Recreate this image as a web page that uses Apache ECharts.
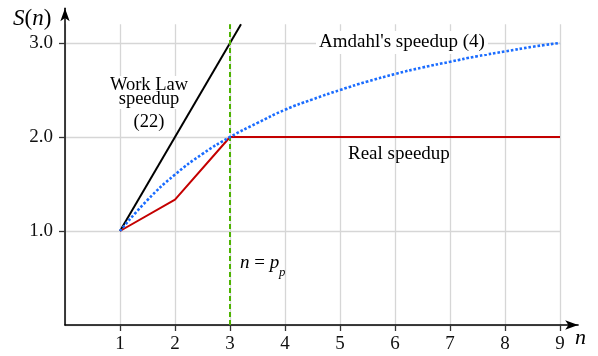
<!DOCTYPE html>
<html><head><meta charset="utf-8">
<script src="https://cdn.jsdelivr.net/npm/echarts@6/dist/echarts.min.js"></script>
<style>html,body{margin:0;padding:0;background:#fff}#c{width:598px;height:356px}</style>
</head><body><div id="c"></div>
<script>
// ---- data ----
const xTicks = [1, 2, 3, 4, 5, 6, 7, 8, 9];
const yTicks = [1, 2, 3];
const workLawN = [1, 3.2];
const workLawS = [1, 3.2];
const amdahlN = [1, 1.5, 2, 2.5, 3, 3.5, 4, 4.5, 5, 5.5, 6, 6.5, 7, 7.5, 8, 8.5, 9];
const amdahlS = [1.0, 1.33, 1.6, 1.82, 2.0, 2.15, 2.29, 2.4, 2.5, 2.59, 2.67, 2.74, 2.8, 2.86, 2.91, 2.96, 3.0];
const realN = [1, 2, 3, 9];
const realS = [1.0, 1.333, 2.0, 2.0];
const pp = 3;

const FF = '"Liberation Serif", "Times New Roman", serif';
const zip = (a, b) => a.map((v, i) => [v, b[i]]);

// ---- layout ----
const X0 = 65, Y0 = 325, UX = 55, UY = 94;
const xMaxA = 9, yMaxA = 3.2, xMaxB = 9.33, yMaxB = 3.37;

const chart = echarts.init(document.getElementById('c'), null, {renderer: 'canvas'});
chart.setOption({
  animation: false,
  backgroundColor: '#fff',
  grid: [
    {left: X0, top: Y0 - yMaxA * UY, width: xMaxA * UX, height: yMaxA * UY},
    {left: X0, top: Y0 - yMaxB * UY, width: xMaxB * UX, height: yMaxB * UY}
  ],
  xAxis: [
    {gridIndex: 0, type: 'value', min: 0, max: xMaxA, interval: 1,
     axisLine: {show: false}, axisTick: {show: false}, axisLabel: {show: false},
     splitLine: {show: true, lineStyle: {color: '#d6d6d6', width: 1.3}}},
    {gridIndex: 1, type: 'value', min: 0, max: xMaxB, interval: 1,
     axisLine: {show: true, onZero: false, symbol: ['none', 'arrow'], symbolSize: [7, 13],
                lineStyle: {color: '#000', width: 1.5}},
     axisTick: {show: true, customValues: xTicks, length: 6, lineStyle: {color: '#333', width: 1.3}},
     axisLabel: {show: true, customValues: xTicks, margin: 10, fontSize: 19, fontFamily: FF, color: '#111'},
     splitLine: {show: false}}
  ],
  yAxis: [
    {gridIndex: 0, type: 'value', min: 0, max: yMaxA, interval: 1,
     axisLine: {show: false}, axisTick: {show: false}, axisLabel: {show: false},
     splitLine: {show: true, showMaxLine: false, lineStyle: {color: '#d6d6d6', width: 1.3}}},
    {gridIndex: 1, type: 'value', min: 0, max: yMaxB, interval: 1,
     axisLine: {show: true, onZero: false, symbol: ['none', 'arrow'], symbolSize: [7, 13],
                lineStyle: {color: '#000', width: 1.5}},
     axisTick: {show: true, customValues: yTicks, length: 6, lineStyle: {color: '#333', width: 1.3}},
     axisLabel: {show: true, customValues: yTicks, margin: 12, fontSize: 19, fontFamily: FF, color: '#111',
                 formatter: v => Number(v).toFixed(1)},
     splitLine: {show: false}}
  ],
  series: [
    {name: 'Work Law', type: 'line', xAxisIndex: 0, yAxisIndex: 0, data: zip(workLawN, workLawS),
     symbol: 'none', clip: false, lineStyle: {color: '#000', width: 2}, z: 3},
    {name: 'Real', type: 'line', xAxisIndex: 0, yAxisIndex: 0, data: zip(realN, realS),
     symbol: 'none', lineStyle: {color: '#c40000', width: 2}, z: 4,
     markLine: {silent: true, symbol: 'none', label: {show: false},
                lineStyle: {color: '#4db300', width: 2, type: [5, 3]},
                data: [{xAxis: pp}]}},
    {name: 'Amdahl', type: 'line', xAxisIndex: 0, yAxisIndex: 0, data: zip(amdahlN, amdahlS),
     symbol: 'none', smooth: true, lineStyle: {color: '#1a6cff', width: 2.6, type: [2.6, 1.9]}, z: 5}
  ],
  graphic: [
    {type: 'text', x: 13, y: 19, silent: true, style: {
      text: '{i|S}{r|(}{i|n}{r|)}', fill: '#000', align: 'left', verticalAlign: 'middle',
      rich: {i: {fontStyle: 'italic', fontSize: 23, fontFamily: FF}, r: {fontSize: 23, fontFamily: FF}}}},
    {type: 'text', x: 575, y: 338, silent: true, style: {
      text: 'n', fill: '#000', align: 'left', verticalAlign: 'middle',
      fontStyle: 'italic', fontSize: 22, fontFamily: FF}},
    {type: 'text', x: 149, y: 85.5, silent: true, z: 10, style: {
      text: 'Work Law', fill: '#000', align: 'center', verticalAlign: 'middle', fontSize: 18.5, fontFamily: FF,
      backgroundColor: '#fff', padding: [0, 1]}},
    {type: 'text', x: 149, y: 99.5, silent: true, z: 10, style: {
      text: 'speedup', fill: '#000', align: 'center', verticalAlign: 'middle', fontSize: 18.5, fontFamily: FF,
      backgroundColor: '#fff', padding: [0, 1]}},
    {type: 'text', x: 149, y: 122.5, silent: true, z: 10, style: {
      text: '(22)', fill: '#000', align: 'center', verticalAlign: 'middle', fontSize: 18.5, fontFamily: FF,
      backgroundColor: '#fff', padding: [2, 1]}},
    {type: 'text', x: 316, y: 42.5, silent: true, z: 10, style: {
      text: "Amdahl's speedup (4)", fill: '#000', align: 'left', verticalAlign: 'middle', fontSize: 19, fontFamily: FF,
      backgroundColor: '#fff', padding: [2, 3]}},
    {type: 'text', x: 348, y: 154.5, silent: true, style: {
      text: 'Real speedup', fill: '#000', align: 'left', verticalAlign: 'middle', fontSize: 19, fontFamily: FF}},
    {type: 'text', x: 240, y: 263, silent: true, style: {
      text: '{i|n}{r| = }{i|p}', fill: '#000', align: 'left', verticalAlign: 'middle',
      rich: {i: {fontStyle: 'italic', fontSize: 19, fontFamily: FF}, r: {fontSize: 19, fontFamily: FF}}}},
    {type: 'text', x: 279, y: 272.5, silent: true, style: {
      text: 'p', fill: '#000', align: 'left', verticalAlign: 'middle',
      fontStyle: 'italic', fontSize: 13, fontFamily: FF}}
  ]
});
</script>
</body></html>
